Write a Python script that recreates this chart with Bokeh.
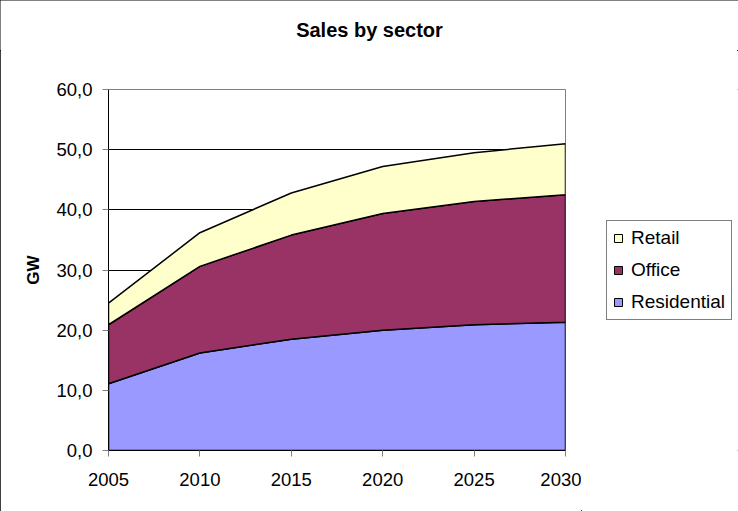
from bokeh.plotting import figure
from bokeh.layouts import row, column
from bokeh.models import FixedTicker, Legend, LegendItem, Range1d, Label
from bokeh.embed import file_html
from bokeh.resources import INLINE

# ---- data ----
YEARS = [2005, 2010, 2015, 2020, 2025, 2030]
RESIDENTIAL = [11.1, 16.2, 18.5, 20.0, 20.9, 21.3]
OFFICE = [9.8, 14.4, 17.3, 19.4, 20.5, 21.2]
RETAIL = [3.6, 5.6, 7.0, 7.8, 8.1, 8.5]
SERIES_NAMES = ["Residential", "Office", "Retail"]
SERIES_COLORS = ["#9999FF", "#993366", "#FFFFCC"]
Y_TICKS = [0, 10, 20, 30, 40, 50, 60]
Y_TICK_LABELS = ["0,0", "10,0", "20,0", "30,0", "40,0", "50,0", "60,0"]
X_TICKS = [2005, 2010, 2015, 2020, 2025, 2030]
TITLE = "Sales by sector"
Y_LABEL = "GW"

FONT = "Liberation Sans"


def blank_figure(w, h):
    f = figure(width=w, height=h, output_backend="svg", toolbar_location=None,
               x_range=Range1d(0, 1), y_range=Range1d(0, 1),
               x_axis_location=None, y_axis_location=None, title=None)
    f.min_border = 0
    f.min_border_left = 0
    f.min_border_right = 0
    f.min_border_top = 0
    f.min_border_bottom = 0
    f.grid.visible = False
    f.outline_line_color = None
    f.background_fill_color = "white"
    f.border_fill_color = "white"
    return f


# ---- title strip ----
tf = blank_figure(738, 50)
title = Label(x=369, y=21, x_units="screen", y_units="screen", text=TITLE,
              text_align="center", text_baseline="middle", text_font_size="20px",
              text_font_style="bold", text_color="black")
title.text_font = FONT
tf.add_layout(title)

# ---- main plot ----
p = figure(width=581, height=461, output_backend="svg", toolbar_location=None,
           x_range=Range1d(2005, 2030), y_range=Range1d(0, 60), title=None)
p.min_border_left = 108
p.min_border_right = 16
p.min_border_top = 39
p.min_border_bottom = 61
p.background_fill_color = "white"
p.border_fill_color = "white"
p.outline_line_color = "#808080"
p.outline_line_width = 1

p.xgrid.visible = False
p.ygrid.ticker = FixedTicker(ticks=Y_TICKS)
p.ygrid.grid_line_color = "black"
p.ygrid.grid_line_width = 1

p.xaxis.ticker = FixedTicker(ticks=X_TICKS)
p.yaxis.ticker = FixedTicker(ticks=Y_TICKS)
p.yaxis.major_label_overrides = {t_: l for t_, l in zip(Y_TICKS, Y_TICK_LABELS)}
for ax in (p.xaxis, p.yaxis):
    ax.axis_line_color = "black"
    ax.axis_line_width = 1
    ax.major_tick_line_color = "#808080"
    ax.major_tick_out = 6
    ax.major_tick_in = 0
    ax.minor_tick_line_color = None
    ax.major_label_text_font = FONT
    ax.major_label_text_font_size = "18.5px"
    ax.major_label_text_color = "black"
    ax.major_label_standoff = 10
p.xaxis.major_label_standoff = 16
p.yaxis.axis_label = Y_LABEL
p.yaxis.axis_label_text_font = FONT
p.yaxis.axis_label_text_font_size = "17px"
p.yaxis.axis_label_text_font_style = "bold"
p.yaxis.axis_label_text_color = "black"
p.yaxis.axis_label_standoff = 10

# stacked areas
polys = []
lower = [0.0] * len(YEARS)
for name, vals, color in zip(SERIES_NAMES, [RESIDENTIAL, OFFICE, RETAIL], SERIES_COLORS):
    upper = [a + b for a, b in zip(lower, vals)]
    xs = YEARS + YEARS[::-1]
    ys = upper + lower[::-1]
    p.patch(xs, ys, fill_color=color, line_color="black", line_width=1.5)
    polys.append((name, xs, ys, color))
    lower = upper

# ---- legend strip (same polygons, outside its visible range; only the legend shows) ----
pl = blank_figure(157, 461)
pl.min_border_left = 25
pl.min_border_top = 39
pl.min_border_bottom = 61
legend_renderers = {}
for name, xs, ys, color in polys:
    legend_renderers[name] = pl.patch(xs, ys, fill_color=color, line_color="black", line_width=1)

legend = Legend(items=[LegendItem(label=n, renderers=[legend_renderers[n]]) for n in ["Retail", "Office", "Residential"]],
                location="center_left")
legend.label_text_font = FONT
legend.label_text_font_size = "19px"
legend.label_text_color = "black"
legend.glyph_width = 10
legend.glyph_height = 10
legend.label_standoff = 8
legend.padding = 6
legend.spacing = 10
legend.label_height = 21
legend.border_line_color = "black"
legend.border_line_width = 1
legend.background_fill_color = "white"
legend.margin = 0
pl.add_layout(legend, "center")

layout = column(tf, row(p, pl, spacing=0), spacing=0)
layout.styles = {"outline": "1px solid black", "outline-offset": "-1px"}

open("out.html", "w").write(file_html(layout, INLINE))
